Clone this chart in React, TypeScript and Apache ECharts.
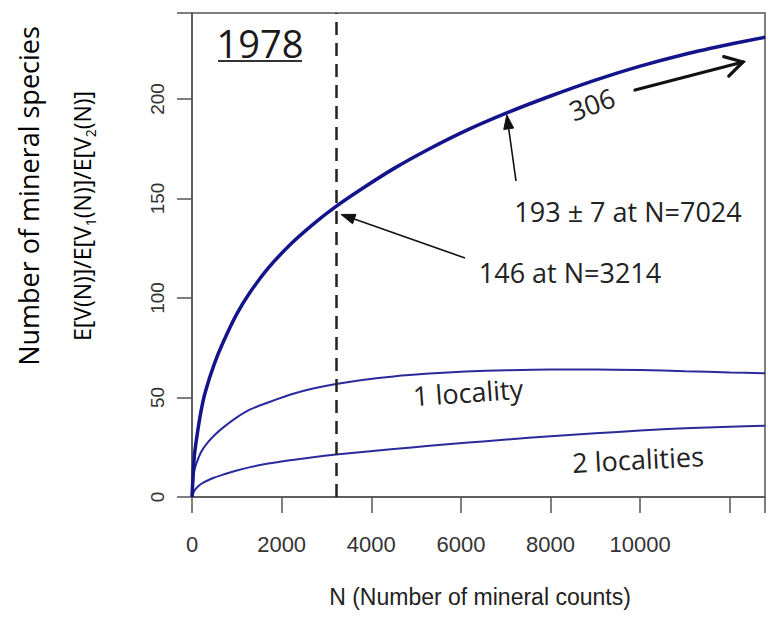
import React, { useEffect, useRef } from 'react';
import * as echarts from 'echarts';

// N (number of mineral counts)
const nCounts = [0, 50, 100, 200, 300, 500, 700, 1000, 1300, 1700, 2200, 2700, 3214, 3800, 4500, 5300, 6100, 7024, 8000, 9000, 10000, 11000, 12000, 12790];
// E[V(N)] - all species
const speciesAll = [0, 20, 29, 43, 53, 67, 78, 92, 103, 115, 127, 137, 146, 155, 165, 175, 184, 193, 201.5, 209.5, 216.5, 222.5, 227.5, 231];
// E[V1(N)] - species at 1 locality
const oneLocality = [0, 13, 17, 22.5, 26, 31, 35, 40, 44, 47.5, 51.5, 54.5, 56.8, 58.8, 60.6, 62, 63, 63.7, 64.1, 64.1, 63.8, 63.2, 62.6, 62.2];
// E[V2(N)] - species at 2 localities
const twoLocalities = [0, 3, 4.5, 6.5, 7.8, 9.8, 11.3, 13.3, 15, 16.8, 18.5, 20, 21.3, 22.6, 24.1, 25.7, 27.2, 28.9, 30.5, 32, 33.4, 34.5, 35.3, 35.8];

const xTicks = [0, 2000, 4000, 6000, 8000, 10000];
const yTicks = [0, 50, 100, 150, 200];
const refN = 3214;
const pointA = [3214, 146];
const pointB = [7024, 193];

const yearLabel = '1978';
const labelA = '146 at N=3214';
const labelB = '193 \u00b1 7 at N=7024';
const label306 = '306';
const label1 = '1 locality';
const label2 = '2 localities';

const ANNO_FONT = "27px 'Open Sans', sans-serif";

function filledArrow(from: number[], to: number[], color: string, lw: number, hl: number, hw: number) {
  const dx = to[0] - from[0];
  const dy = to[1] - from[1];
  const len = Math.sqrt(dx * dx + dy * dy);
  const ux = dx / len, uy = dy / len;
  const bx = to[0] - ux * hl, by = to[1] - uy * hl;
  const px = -uy, py = ux;
  return [
    { type: 'line', shape: { x1: from[0], y1: from[1], x2: bx, y2: by }, style: { stroke: color, lineWidth: lw }, z: 100 },
    {
      type: 'polygon',
      shape: { points: [[to[0], to[1]], [bx + px * hw, by + py * hw], [bx - px * hw, by - py * hw]] },
      style: { fill: color, stroke: color, lineWidth: 1 },
      z: 100,
    },
  ];
}

function openArrow(from: number[], to: number[], color: string, lw: number, hl: number, ang: number) {
  const a = Math.atan2(to[1] - from[1], to[0] - from[0]);
  const p1 = [to[0] - hl * Math.cos(a - ang), to[1] - hl * Math.sin(a - ang)];
  const p2 = [to[0] - hl * Math.cos(a + ang), to[1] - hl * Math.sin(a + ang)];
  return [
    { type: 'line', shape: { x1: from[0], y1: from[1], x2: to[0], y2: to[1] }, style: { stroke: color, lineWidth: lw, lineCap: 'round' }, z: 100 },
    { type: 'polyline', shape: { points: [p1, to, p2] }, style: { stroke: color, lineWidth: lw, fill: null, lineCap: 'round', lineJoin: 'miter' }, z: 100 },
  ];
}

function txt(text: string, x: number, y: number, font: string, fill: string, rotationDeg = 0, extra: any = {}) {
  return {
    type: 'text',
    x,
    y,
    rotation: (rotationDeg * Math.PI) / 180,
    z: 100,
    style: { text, font, fill, align: 'center', verticalAlign: 'middle', textAlign: 'center', textVerticalAlign: 'middle', ...extra },
  };
}

export default function App() {
  const ref = useRef<HTMLDivElement>(null);
  useEffect(() => {
    if (!ref.current) return;
    const chart = echarts.init(ref.current, null, { renderer: 'svg' });
    const axisColor = '#555';
    const option: any = {
      animation: false,
      backgroundColor: '#fff',
      grid: { left: 192, right: 2, top: 13, bottom: 122, show: true, borderColor: axisColor, borderWidth: 1.5, backgroundColor: 'transparent' },
      xAxis: {
        type: 'value',
        min: 0,
        max: 12785,
        interval: 2000,
        axisLine: { show: true, onZero: false, lineStyle: { color: axisColor, width: 1.5 } },
        axisTick: { show: true, length: 16, lineStyle: { color: axisColor, width: 1.5 } },
        splitLine: { show: false },
        axisLabel: {
          margin: 36,
          fontSize: 22,
          fontFamily: "'Liberation Sans', Arial, sans-serif",
          color: '#333',
          formatter: (v: number) => (xTicks.indexOf(v) >= 0 ? String(v) : ''),
        },
      },
      yAxis: {
        type: 'value',
        min: 0,
        max: 243.2,
        interval: 50,
        axisLine: { show: true, onZero: false, lineStyle: { color: axisColor, width: 1.5 } },
        axisTick: { show: true, length: 15, lineStyle: { color: axisColor, width: 1.5 } },
        splitLine: { show: false },
        axisLabel: {
          rotate: 90,
          margin: 25,
          fontSize: 19,
          fontFamily: "'Liberation Sans', Arial, sans-serif",
          color: '#333',
          formatter: (v: number) => (yTicks.indexOf(v) >= 0 ? String(v) : ''),
        },
      },
      series: [
        {
          type: 'line',
          data: nCounts.map((n, i) => [n, twoLocalities[i]]),
          showSymbol: false,
          smooth: 0.3,
          lineStyle: { color: '#2a2a9c', width: 2 },
          z: 2,
        },
        {
          type: 'line',
          data: nCounts.map((n, i) => [n, oneLocality[i]]),
          showSymbol: false,
          smooth: 0.3,
          lineStyle: { color: '#2a2a9c', width: 2 },
          z: 2,
        },
        {
          type: 'line',
          data: nCounts.map((n, i) => [n, speciesAll[i]]),
          showSymbol: false,
          smooth: 0.3,
          lineStyle: { color: '#14148a', width: 3.5 },
          z: 3,
          markLine: {
            silent: true,
            symbol: ['none', 'none'],
            label: { show: false },
            lineStyle: { color: '#222', width: 2.5, type: [13, 8] },
            data: [{ xAxis: refN }],
          },
        },
      ],
    };
    chart.setOption(option);

    const pA = chart.convertToPixel({ gridIndex: 0 }, pointA) as number[];
    const pB = chart.convertToPixel({ gridIndex: 0 }, pointB) as number[];

    const graphics: any[] = [
      txt(yearLabel, 260, 43, "38px 'Open Sans', sans-serif", '#1a1a1a'),
      { type: 'line', shape: { x1: 218, y1: 61, x2: 302, y2: 61 }, style: { stroke: '#333', lineWidth: 2 }, z: 100 },
      txt(label306, 592, 104, ANNO_FONT, '#222', 20),
      ...openArrow([635, 90], [743, 62], '#111', 3.2, 20, Math.PI / 6),
      txt(labelB, 628, 211, ANNO_FONT, '#222'),
      ...filledArrow([516, 181], [pB[0], pB[1] + 2], '#111', 1.6, 14, 5),
      txt(labelA, 570, 272, ANNO_FONT, '#222'),
      ...filledArrow([465, 258], [pA[0] + 5, pA[1] + 8], '#111', 1.6, 14, 5),
      txt(label1, 468, 392, ANNO_FONT, '#222', 4),
      txt(label2, 638, 459, ANNO_FONT, '#222', 3),
      txt('Number of mineral species', 28, 196, "27px 'Open Sans', sans-serif", '#000', 90),
      {
        type: 'text',
        x: 82,
        y: 216,
        rotation: Math.PI / 2,
        z: 100,
        style: {
          text: '{a|E[V(N)]/E[V}{s|1}{a|(N)]/E[V}{s|2}{a|(N)]}',
          align: 'center',
          verticalAlign: 'middle',
          textAlign: 'center',
          textVerticalAlign: 'middle',
          rich: {
            a: { fontSize: 23, fontFamily: "'Open Sans', sans-serif", color: '#333', lineHeight: 30, verticalAlign: 'middle' },
            s: { fontSize: 14, fontFamily: "'Open Sans', sans-serif", color: '#333', lineHeight: 16, verticalAlign: 'bottom' },
          },
        },
      },
      txt('N (Number of mineral counts)', 480, 597, "23px 'Liberation Sans', Arial, sans-serif", '#222'),
    ];
    chart.setOption({ graphic: { elements: graphics } });

    return () => chart.dispose();
  }, []);
  return <div ref={ref} style={{ position: 'fixed', left: 0, top: 0, width: 768, height: 619, background: '#fff' }} />;
}
